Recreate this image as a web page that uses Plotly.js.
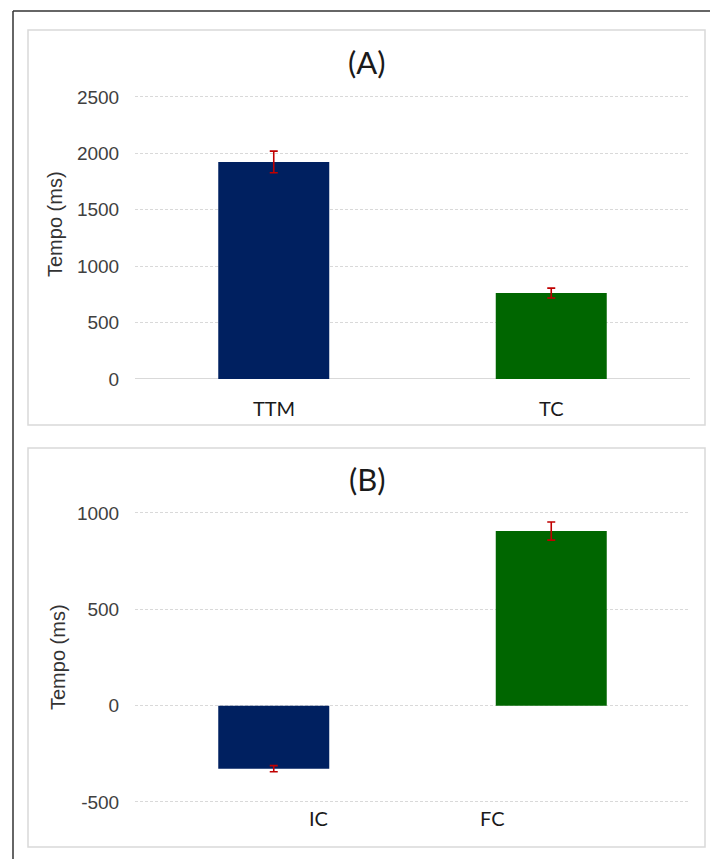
<!DOCTYPE html>
<html>
<head>
<meta charset="utf-8">
<script src="https://cdn.plot.ly/plotly-3.0.1.min.js"></script>
<style>
html,body{margin:0;padding:0;background:#fff;}
#chart{width:710px;height:859px;}
</style>
</head>
<body>
<div id="chart"></div>
<script>
// Panel A data
const catsA = ["TTM", "TC"];
const valsA = [1924, 762];
const errA = [96, 44];
// Panel B data
const catsB = ["IC", "FC"];
const valsB = [-327, 906];
const errB = [16, 47];
const colors = ["#002060", "#006600"];
const yTicksA = [0, 500, 1000, 1500, 2000, 2500];
const yTickTextA = ["0", "500", "1000", "1500", "2000", "2500"];
const yTicksB = [-500, 0, 500, 1000];
const yTickTextB = ["-500", "0", "500", "1000"];
const titles = ["(A)", "(B)"];
const yTitle = "Tempo (ms)";

const W = 710, H = 859;
const px = x => x / W;
const py = y => 1 - y / H;

const errStyle = {type: 'data', visible: true, color: '#c00000', thickness: 1.6, width: 4};

const traces = [
  {type: 'bar', x: catsA, y: valsA, xaxis: 'x', yaxis: 'y',
   marker: {color: colors}, error_y: Object.assign({array: errA}, errStyle), hoverinfo: 'none'},
  {type: 'bar', x: catsB, y: valsB, xaxis: 'x2', yaxis: 'y2',
   marker: {color: colors}, error_y: Object.assign({array: errB}, errStyle), hoverinfo: 'none'}
];

const tickFont = {family: 'Liberation Sans, Arial, sans-serif', size: 19, color: '#404040'};
const yCommon = {
  showgrid: true, gridcolor: '#d9d9d9', griddash: '3px,2px', gridwidth: 1,
  showline: false, ticks: 'outside', ticklen: 11, tickcolor: 'rgba(0,0,0,0)',
  tickfont: tickFont, fixedrange: true
};
const xCommon = {
  showgrid: false, zeroline: false, showline: false, showticklabels: false,
  ticks: '', range: [-0.5, 1.5], fixedrange: true
};

const annotations = [];
const titleFont = {family: 'Lato, Open Sans, sans-serif', size: 31, color: '#1a1a1a'};
annotations.push({text: titles[0], xref: 'paper', yref: 'paper', x: px(367), y: py(62),
  showarrow: false, xanchor: 'center', yanchor: 'middle', font: titleFont});
annotations.push({text: titles[1], xref: 'paper', yref: 'paper', x: px(367), y: py(479),
  showarrow: false, xanchor: 'center', yanchor: 'middle', font: titleFont});
const yTitleFont = {family: 'Liberation Sans, Arial, sans-serif', size: 20, color: '#333'};
annotations.push({text: yTitle, xref: 'paper', yref: 'paper', x: px(55), y: py(224),
  showarrow: false, textangle: -90, xanchor: 'center', yanchor: 'middle', font: yTitleFont});
annotations.push({text: yTitle, xref: 'paper', yref: 'paper', x: px(58), y: py(657),
  showarrow: false, textangle: -90, xanchor: 'center', yanchor: 'middle', font: yTitleFont});
const catFont = {family: 'Lato, Open Sans, sans-serif', size: 20, color: '#1a1a1a'};
const labelPosA = [0, 1];
const labelPosB = [0.16, 0.79];
catsA.forEach((c, i) => annotations.push({text: c, xref: 'x', yref: 'paper', x: labelPosA[i], y: py(408),
  showarrow: false, xanchor: 'center', yanchor: 'middle', font: catFont}));
catsB.forEach((c, i) => annotations.push({text: c, xref: 'x2', yref: 'paper', x: labelPosB[i], y: py(818),
  showarrow: false, xanchor: 'center', yanchor: 'middle', font: catFont}));

const shapes = [
  {type: 'line', xref: 'paper', yref: 'paper', x0: px(13), x1: px(712), y0: py(11), y1: py(11),
   line: {color: '#333', width: 1.5}},
  {type: 'line', xref: 'paper', yref: 'paper', x0: px(13), x1: px(13), y0: py(11), y1: py(862),
   line: {color: '#333', width: 1.5}},
  {type: 'rect', xref: 'paper', yref: 'paper', x0: px(28), x1: px(705), y0: py(30), y1: py(425),
   line: {color: '#d9d9d9', width: 1.5}},
  {type: 'rect', xref: 'paper', yref: 'paper', x0: px(28), x1: px(705), y0: py(448), y1: py(847),
   line: {color: '#d9d9d9', width: 1.5}}
];

// scale: A 282px per 2500 ; B 289px per 1500
const kA = 282 / 2500, kB = 289 / 1500;
const layout = {
  width: W, height: H,
  margin: {l: 0, r: 0, t: 0, b: 0, pad: 0},
  paper_bgcolor: '#fff', plot_bgcolor: 'rgba(0,0,0,0)',
  showlegend: false, bargap: 0.6,
  xaxis: Object.assign({}, xCommon, {domain: [px(135), px(690)], anchor: 'y'}),
  yaxis: Object.assign({}, yCommon, {domain: [py(379), py(97 - 30 * kA)], range: [0, 2530],
    tickvals: yTicksA, ticktext: yTickTextA, anchor: 'x',
    zeroline: true, zerolinecolor: '#d9d9d9', zerolinewidth: 1}),
  xaxis2: Object.assign({}, xCommon, {domain: [px(135), px(690)], anchor: 'y2'}),
  yaxis2: Object.assign({}, yCommon, {domain: [py(802 + 20 * kB), py(513 - 20 * kB)], range: [-520, 1020],
    tickvals: yTicksB, ticktext: yTickTextB, anchor: 'x2', zeroline: false}),
  annotations: annotations,
  shapes: shapes
};

Plotly.newPlot('chart', traces, layout, {staticPlot: true, displayModeBar: false});
</script>
</body>
</html>
